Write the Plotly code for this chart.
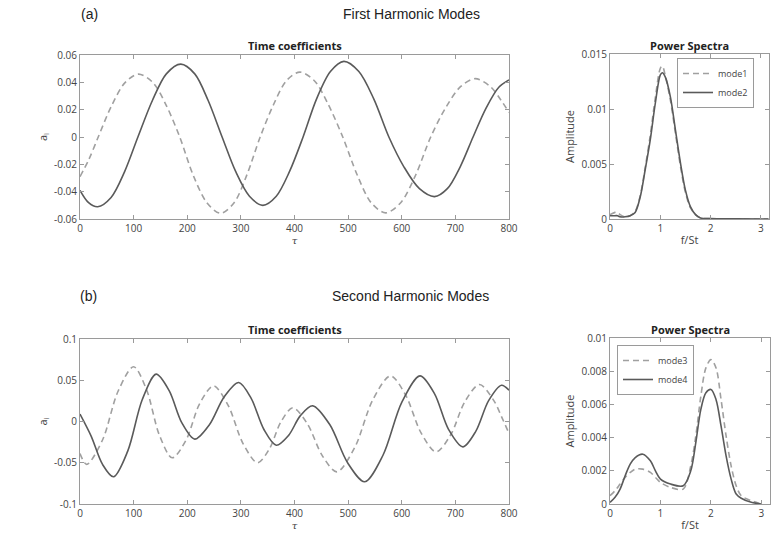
import plotly.graph_objects as go

# ---------------- data ----------------
# (a) First harmonic: time coefficients
tau_m1 = [0, 17, 34, 59, 84, 109, 136, 161, 186, 211, 237, 262, 287, 311, 336, 361, 385, 410,
          437, 463, 490, 517, 543, 570, 598, 626, 654, 682, 710, 737, 765, 785, 800]
a_m1 = [-0.029, -0.016, 0.0, 0.023, 0.0398, 0.046, 0.0398, 0.023, 0.0, -0.0279, -0.0483, -0.0558,
        -0.0483, -0.0279, 0.0, 0.0238, 0.0412, 0.0475, 0.0412, 0.0238, 0.0, -0.0278, -0.0481, -0.0555,
        -0.0481, -0.0278, 0.0, 0.0214, 0.037, 0.0427, 0.037, 0.027, 0.018]

tau_m2 = [0, 16, 33, 58, 83, 108, 135, 161, 188, 214, 239, 265, 290, 316, 341, 366, 391, 416,
          441, 467, 492, 520, 548, 576, 604, 633, 661, 685, 709, 733, 757, 781, 800]
a_m2 = [-0.039, -0.048, -0.051, -0.0442, -0.0255, 0.0, 0.0267, 0.0462, 0.0533, 0.0462, 0.0267, 0.0,
        -0.025, -0.0433, -0.050, -0.0433, -0.025, 0.0, 0.0277, 0.0479, 0.0553, 0.0479, 0.0277, 0.0,
        -0.0218, -0.0378, -0.0436, -0.0378, -0.0218, 0.0, 0.021, 0.0364, 0.0418]

# (a) Power spectra
f_a = [0, 0.1, 0.15, 0.2, 0.3, 0.4, 0.5, 0.6, 0.7, 0.8, 0.9, 1.0, 1.04, 1.1, 1.2, 1.3, 1.4, 1.5,
       1.6, 1.7, 1.8, 2.0, 2.5, 3.15]
p_m1 = [0.0004, 0.0006, 0.0006, 0.0004, 0.0002, 0.0003, 0.0007, 0.0021, 0.0047, 0.0076, 0.0110,
        0.0137, 0.0139, 0.0130, 0.0108, 0.0078, 0.0048, 0.0024, 0.0010, 0.0004, 0.0001, 0.00003,
        0.00001, 0.0]
p_m2 = [0.0003, 0.0003, 0.0003, 0.0002, 0.0002, 0.0003, 0.0006, 0.0020, 0.0045, 0.0072, 0.0105,
        0.0131, 0.0133, 0.0129, 0.0111, 0.0081, 0.0051, 0.0026, 0.0011, 0.0004, 0.0001, 0.00003,
        0.00001, 0.0]

# (b) Second harmonic: time coefficients
tau_m3 = [0, 12.5, 42, 71, 100, 124, 148, 172, 198, 223, 249, 276, 304, 331, 353, 375, 397, 424,
          452, 479, 512, 546, 579, 607, 636, 664, 691, 718, 745, 772, 786, 800]
a_m3 = [-0.0388, -0.052, -0.0224, 0.0367, 0.0663, 0.0387, -0.0164, -0.044, -0.0222, 0.0214, 0.0432,
        0.0199, -0.0267, -0.050, -0.0334, -0.0001, 0.0166, -0.0028, -0.0416, -0.061, -0.0319, 0.0262,
        0.0553, 0.0323, -0.0138, -0.0368, -0.0164, 0.0244, 0.0448, 0.025, 0.006, -0.0145]

tau_m4 = [0, 21, 42, 62.5, 89, 116, 142, 166, 190, 214, 241, 269, 296, 319, 343, 366, 389, 411, 434,
          466, 499, 531, 565, 600, 634, 661, 687, 714, 738, 762, 786, 800]
a_m4 = [0.009, -0.018, -0.052, -0.067, -0.0359, 0.0263, 0.0574, 0.0377, -0.0017, -0.0214, -0.0042,
        0.0301, 0.0473, 0.0283, -0.0097, -0.0287, -0.0168, 0.0071, 0.019, -0.004, -0.050, -0.073,
        -0.0409, 0.0232, 0.0553, 0.0338, -0.0092, -0.0307, -0.012, 0.0253, 0.044, 0.038]

# (b) Power spectra
f_b = [0, 0.1, 0.2, 0.3, 0.4, 0.5, 0.65, 0.8, 0.9, 1.0, 1.2, 1.45, 1.6, 1.7, 1.8, 1.9, 2.0, 2.1,
       2.2, 2.3, 2.4, 2.5, 2.6, 2.8, 3.0]
p_m3 = [0.0005, 0.0008, 0.0012, 0.0016, 0.0019, 0.0021, 0.0021, 0.0019, 0.0016, 0.0013, 0.0010,
        0.0009, 0.0023, 0.0041, 0.0065, 0.0082, 0.0087, 0.0082, 0.0063, 0.0041, 0.0023, 0.0011,
        0.0005, 0.0002, 0.0]
p_m4 = [0.0001, 0.0004, 0.0009, 0.0017, 0.0024, 0.0028, 0.0030, 0.0026, 0.0020, 0.0015, 0.0012,
        0.0011, 0.0020, 0.0037, 0.0057, 0.0067, 0.0069, 0.0063, 0.0047, 0.0029, 0.0015, 0.0006,
        0.00035, 0.0001, 0.0]

# tick labels
ticks_tau = [0, 100, 200, 300, 400, 500, 600, 700, 800]
ticks_a1 = [-0.06, -0.04, -0.02, 0, 0.02, 0.04, 0.06]
ticks_a1_txt = ["-0.06", "-0.04", "-0.02", "0", "0.02", "0.04", "0.06"]
ticks_a2 = [-0.1, -0.05, 0, 0.05, 0.1]
ticks_a2_txt = ["-0.1", "-0.05", "0", "0.05", "0.1"]
ticks_f = [0, 1, 2, 3]
ticks_p1 = [0, 0.005, 0.01, 0.015]
ticks_p1_txt = ["0", "0.005", "0.01", "0.015"]
ticks_p2 = [0, 0.002, 0.004, 0.006, 0.008, 0.01]
ticks_p2_txt = ["0", "0.002", "0.004", "0.006", "0.008", "0.01"]

# ---------------- style ----------------
W, H = 783, 544
SOLID = "#5a5a5a"
DASHC = "#a0a0a0"
DASH = "6px,4px"
AX = "#9a9a9a"
TXT = "#444444"
TICKFONT = dict(family="Open Sans", size=10, color=TXT)
LABFONT = dict(family="Open Sans", size=11, color=TXT)
TAUFONT = dict(family="DejaVu Serif", size=10, color=TXT)


def px_x(a, b):
    return [a / W, b / W]


def px_y(top, bottom):
    return [1 - bottom / H, 1 - top / H]


fig = go.Figure()


def line(x, y, xa, ya, color, dash, name=None, legend=None, show=False):
    fig.add_trace(go.Scatter(
        x=x, y=y, xaxis=xa, yaxis=ya, mode="lines", name=name,
        line=dict(color=color, width=1.6, dash=dash, shape="spline", smoothing=0.9),
        showlegend=show, legend=legend, hoverinfo="skip"))


line(tau_m1, a_m1, "x", "y", DASHC, DASH)
line(tau_m2, a_m2, "x", "y", SOLID, "solid")
line(f_a, p_m1, "x2", "y2", DASHC, DASH, "mode1", "legend", True)
line(f_a, p_m2, "x2", "y2", SOLID, "solid", "mode2", "legend", True)
line(tau_m3, a_m3, "x3", "y3", DASHC, DASH)
line(tau_m4, a_m4, "x3", "y3", SOLID, "solid")
line(f_b, p_m3, "x4", "y4", DASHC, DASH, "mode3", "legend2", True)
line(f_b, p_m4, "x4", "y4", SOLID, "solid", "mode4", "legend2", True)

common = dict(showline=True, linecolor=AX, linewidth=1, mirror="ticks", ticks="inside",
              ticklen=4, tickcolor=AX, showgrid=False, zeroline=False, tickfont=TICKFONT,
              automargin=False)

fig.update_layout(
    width=W, height=H, margin=dict(l=0, r=0, t=0, b=0, autoexpand=False),
    paper_bgcolor="white", plot_bgcolor="white",
    xaxis=dict(domain=px_x(80, 509), anchor="y", range=[0, 800], tickvals=ticks_tau,
               title=dict(text="<i>τ</i>", font=TAUFONT, standoff=2), **common),
    yaxis=dict(domain=px_y(55, 219), anchor="x", range=[-0.06, 0.06], tickvals=ticks_a1,
               ticktext=ticks_a1_txt,
               title=dict(text="a<sub>i</sub>", font=LABFONT, standoff=4), **common),
    xaxis2=dict(domain=px_x(610, 769), anchor="y2", range=[0, 3.16], tickvals=ticks_f,
                title=dict(text="f/St", font=LABFONT, standoff=2), **common),
    yaxis2=dict(domain=px_y(54, 219), anchor="x2", range=[0, 0.015], tickvals=ticks_p1,
                ticktext=ticks_p1_txt,
                title=dict(text="Amplitude", font=LABFONT, standoff=4), **common),
    xaxis3=dict(domain=px_x(80, 509), anchor="y3", range=[0, 800], tickvals=ticks_tau,
                title=dict(text="<i>τ</i>", font=TAUFONT, standoff=2), **common),
    yaxis3=dict(domain=px_y(339, 504), anchor="x3", range=[-0.1, 0.1], tickvals=ticks_a2,
                ticktext=ticks_a2_txt,
                title=dict(text="a<sub>i</sub>", font=LABFONT, standoff=4), **common),
    xaxis4=dict(domain=px_x(610, 770), anchor="y4", range=[0, 3.17], tickvals=ticks_f,
                title=dict(text="f/St", font=LABFONT, standoff=2), **common),
    yaxis4=dict(domain=px_y(338, 504), anchor="x4", range=[0, 0.01], tickvals=ticks_p2,
                ticktext=ticks_p2_txt,
                title=dict(text="Amplitude", font=LABFONT, standoff=4), **common),
    legend=dict(x=754 / W, y=1 - 58 / H, xanchor="right", yanchor="top", bgcolor="white",
                bordercolor=AX, borderwidth=1, font=dict(family="Open Sans", size=9, color=TXT),
                itemwidth=30, tracegroupgap=0),
    legend2=dict(x=617 / W, y=1 - 345 / H, xanchor="left", yanchor="top", bgcolor="white",
                 bordercolor=AX, borderwidth=1, font=dict(family="Open Sans", size=9, color=TXT),
                 itemwidth=30, tracegroupgap=0),
)

TITLE_FONT = dict(family="Open Sans", size=11, color="#222222")
HEAD_FONT = dict(family="Liberation Sans", size=14, color="#222222")
annots = [
    ("<b>Time coefficients</b>", 294.5, 45, TITLE_FONT),
    ("<b>Power Spectra</b>", 689, 45, TITLE_FONT),
    ("<b>Time coefficients</b>", 294.5, 329, TITLE_FONT),
    ("<b>Power Spectra</b>", 690, 329, TITLE_FONT),
    ("(a)", 89, 14, HEAD_FONT),
    ("First Harmonic Modes", 411, 14, HEAD_FONT),
    ("(b)", 88, 296, HEAD_FONT),
    ("Second Harmonic Modes", 410, 296, HEAD_FONT),
]
for text, x, y, font in annots:
    fig.add_annotation(text=text, x=x / W, y=1 - y / H, xref="paper", yref="paper",
                       showarrow=False, font=font, xanchor="center", yanchor="middle")

fig.write_html("out.html")
